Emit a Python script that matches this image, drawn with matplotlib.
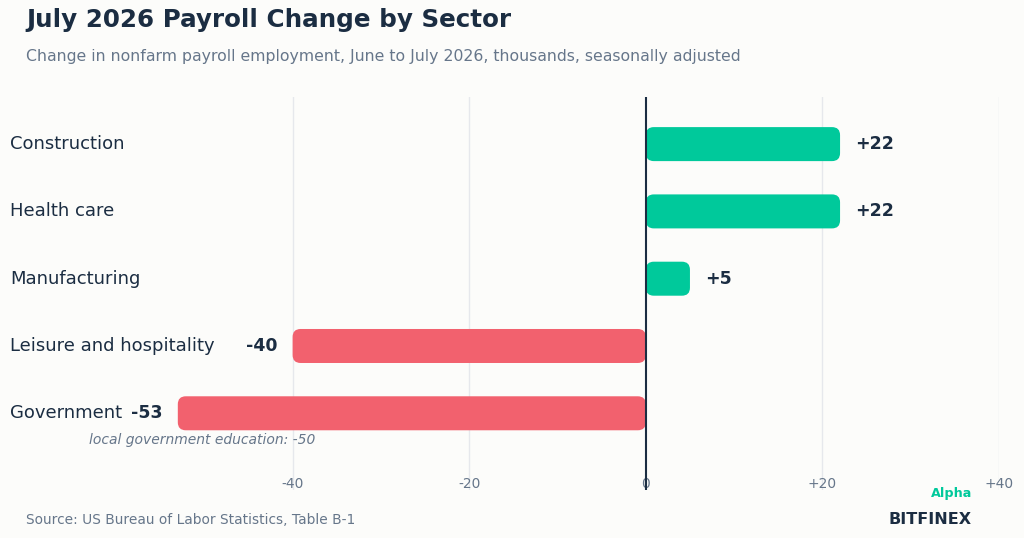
import matplotlib
matplotlib.use("Agg")
import matplotlib.pyplot as plt
from matplotlib.patches import FancyBboxPatch

plt.rcParams["font.family"] = ["DejaVu Sans"]

# --- data ---
sectors = ["Construction", "Health care", "Manufacturing",
           "Leisure and hospitality", "Government"]
changes = [22, 22, 5, -40, -53]
xticks = [-40, -20, 0, 20, 40]
xtick_labels = ["-40", "-20", "0", "+20", "+40"]
note_text = "local government education: -50"

BG = "#fcfcfa"
NAVY = "#1b2d42"
GREY = "#66768a"
GREEN = "#00c99b"
RED = "#f2616e"
GRID = "#e6e8ec"

W, H = 1024, 538
fig = plt.figure(figsize=(W / 100, H / 100), dpi=100, facecolor=BG)

# axes in pixel terms: left 116 (x=-60), right 999 (x=+40), top 97, bottom 490
ax_l, ax_r, ax_t, ax_b = 116, 999, 97, 490
ax = fig.add_axes([ax_l / W, 1 - ax_b / H, (ax_r - ax_l) / W, (ax_b - ax_t) / H])
ax.set_facecolor(BG)
ax.set_xlim(-60, 40)
y_top, y_bot = -0.70, 5.14
ax.set_ylim(y_bot, y_top)

px_x = (ax_r - ax_l) / 100.0               # px per x unit
px_y = (ax_b - ax_t) / (y_bot - y_top)     # px per y unit
bar_h = 34 / px_y
rad = 8 / px_x
aspect = px_x / px_y

for xv in [-40, -20, 20, 40]:
    ax.axvline(xv, color=GRID, lw=1, zorder=0)

for i, (name, val) in enumerate(zip(sectors, changes)):
    color = GREEN if val > 0 else RED
    x0 = min(0, val)
    patch = FancyBboxPatch((x0, i - bar_h / 2), abs(val), bar_h,
                           boxstyle=f"round,pad=0,rounding_size={rad}",
                           mutation_aspect=aspect,
                           fc=color, ec="none", zorder=2)
    ax.add_patch(patch)
    off = 15 / px_x
    if val > 0:
        ax.text(val + off, i, f"+{val}", ha="left", va="center",
                fontsize=12.5, fontweight="bold", color=NAVY)
    else:
        ax.text(val - off, i, f"{val}", ha="right", va="center",
                fontsize=12.5, fontweight="bold", color=NAVY)
    fig.text(10 / W, 1 - (ax_t + (i - y_top) * px_y) / H, name,
             ha="left", va="center", fontsize=13, color=NAVY)

ax.axvline(0, color=NAVY, lw=1.5, zorder=3)

ax.set_xticks(xticks)
ax.set_xticklabels(xtick_labels)
ax.tick_params(axis="x", length=0, pad=-9, labelsize=10, labelcolor=GREY)
ax.set_yticks([])
for s in ax.spines.values():
    s.set_visible(False)

fig.text(89 / W, 1 - 440 / H, note_text, ha="left", va="center",
         fontsize=10, style="italic", color=GREY)

fig.text(26 / W, 1 - 20 / H, "July 2026 Payroll Change by Sector",
         ha="left", va="center", fontsize=17.7, fontweight="bold", color=NAVY)
fig.text(26 / W, 1 - 57 / H,
         "Change in nonfarm payroll employment, June to July 2026, thousands, seasonally adjusted",
         ha="left", va="center", fontsize=11.35, color=GREY)
fig.text(26 / W, 1 - 520 / H, "Source: US Bureau of Labor Statistics, Table B-1",
         ha="left", va="center", fontsize=9.9, color=GREY)
fig.text(972 / W, 1 - 493 / H, "Alpha", ha="right", va="center",
         fontsize=9.2, fontweight="bold", color=GREEN)
fig.text(972 / W, 1 - 519 / H, "BITFINEX", ha="right", va="center",
         fontsize=11.5, fontweight="bold", color=NAVY)

fig.savefig("out.png", dpi=100, facecolor=BG)
